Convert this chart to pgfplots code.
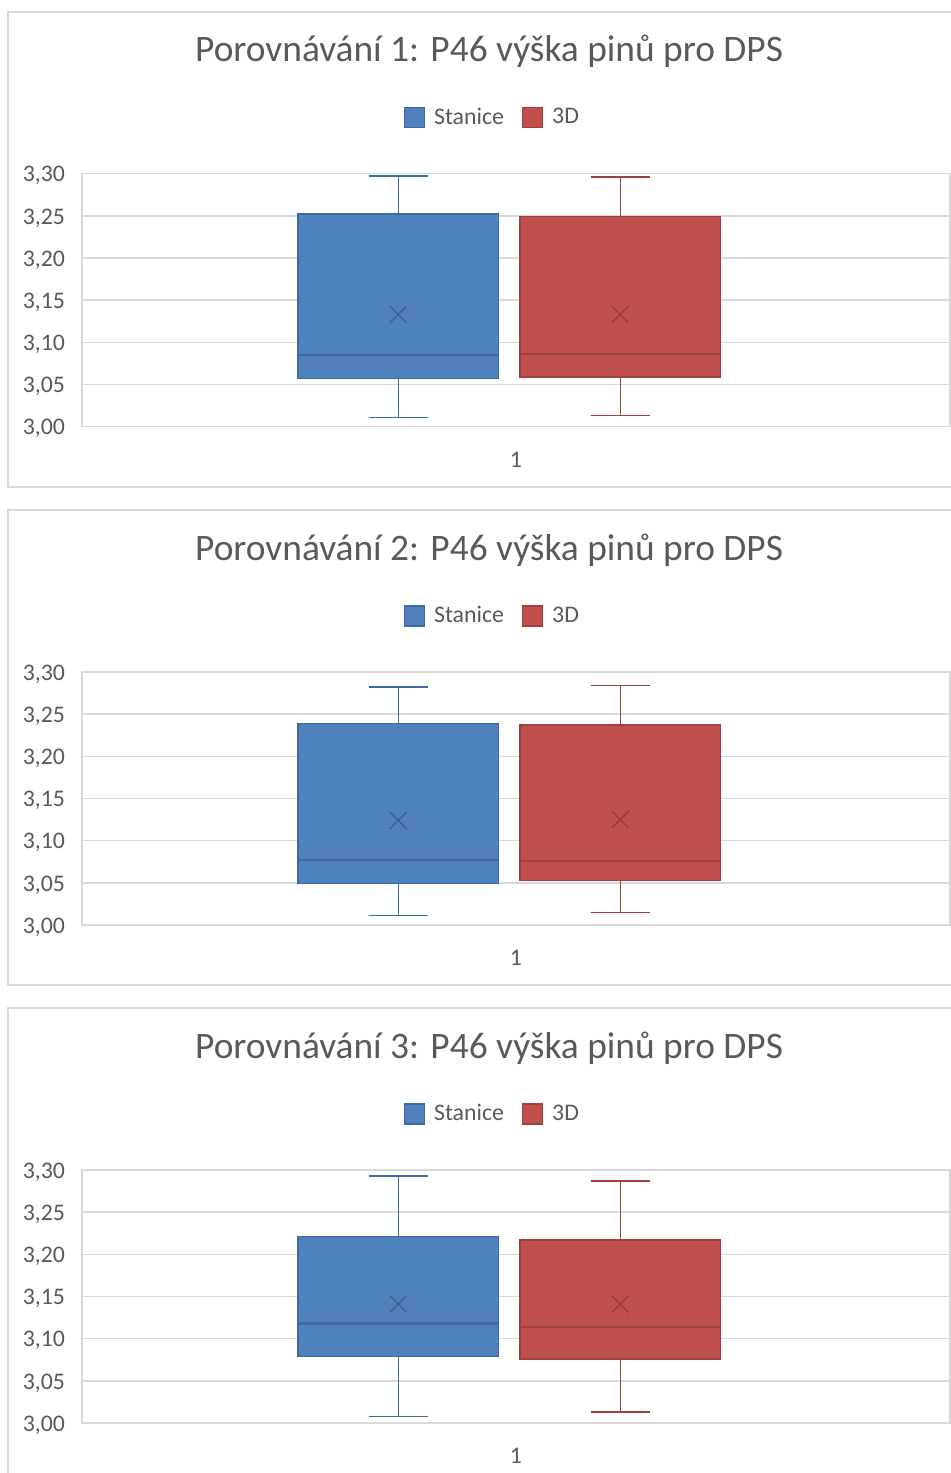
\documentclass[border=0pt]{standalone}
\usepackage{fontspec}
\setmainfont{Carlito}
\usepackage{pgfplots}
\pgfplotsset{compat=1.18}
\usepgfplotslibrary{statistics}
\definecolor{bfill}{HTML}{4F81BD}
\definecolor{bedge}{HTML}{3E6A9E}
\definecolor{rfill}{HTML}{C0504D}
\definecolor{redge}{HTML}{A0403D}
\definecolor{bmark}{HTML}{3A5F8C}
\definecolor{rmark}{HTML}{963C3A}
\definecolor{txt}{HTML}{595959}
\definecolor{grd}{HTML}{D9D9D9}
\pgfplotsset{
  panel/.style={
    scale only axis, width=434pt, height=126.5pt,
    xmin=0, xmax=1, ymin=3, ymax=3.3,
    boxplot/draw direction=y,
    ytick={3,3.05,3.1,3.15,3.2,3.25,3.3},
    xtick={0.5}, xticklabels={1},
    major tick length=0pt,
    ymajorgrids, grid style={grd, line width=0.8pt},
    axis line style={grd, line width=0.8pt},
    tick label style={font=\fontsize{11.9}{14}\selectfont, text=txt},
    yticklabel style={/pgf/number format/fixed, /pgf/number format/fixed zerofill, /pgf/number format/precision=2, /pgf/number format/use comma, /tikz/xshift=-5pt, /tikz/yshift=-1pt},
    xticklabel style={yshift=-9pt},
    /pgf/number format/assume math mode=true,
    title style={at={(0.4690,1.4354)}, anchor=center, font=\fontsize{18.7}{22}\selectfont, text=txt},
    legend style={at={(0.474,1.2216)}, anchor=center, draw=none, fill=none,
      font=\fontsize{11.9}{14}\selectfont, text=txt,
      /tikz/every odd column/.append style={column sep=2.5pt},
      /tikz/every even column/.append style={column sep=7pt}},
    legend columns=2,
    legend image code/.code={\draw[##1, line width=0.6pt] (0pt,-5pt) rectangle (10pt,5pt);},
    clip=false,
  },
  bluebox/.style={draw=bedge, fill=bfill, line width=0.75pt, mark=none,
    boxplot/draw position=0.3644, boxplot/box extend=0.2312, boxplot/whisker extend=0.0682,
    boxplot/every median/.style={draw=bedge, line width=1.1pt}},
  redbox/.style={draw=redge, fill=rfill, line width=0.75pt, mark=none,
    boxplot/draw position=0.6201, boxplot/box extend=0.2312, boxplot/whisker extend=0.0682,
    boxplot/every median/.style={draw=redge, line width=1.1pt}},
  bmean/.style={only marks, mark=x, mark size=5.9pt, mark options={draw=bmark, line width=0.65pt}},
  rmean/.style={only marks, mark=x, mark size=5.9pt, mark options={draw=rmark, line width=0.65pt}},
}
\begin{document}
\begin{tikzpicture}
\useasboundingbox (0,0) rectangle (475.5pt,736.5pt);
\draw[grd, line width=0.7pt] (4pt,493pt) rectangle (490pt,730.5pt);
\draw[grd, line width=0.7pt] (4pt,244pt) rectangle (490pt,481.5pt);
\draw[grd, line width=0.7pt] (4pt,-10pt) rectangle (490pt,232.5pt);

% Panel 1
\begin{axis}[panel, at={(41pt,523.15pt)}, anchor=south west,
  title={Porovnávání 1: P46 výška pinů pro DPS}]
\addlegendimage{draw=bedge, fill=bfill}
\addlegendimage{draw=redge, fill=rfill}
\addplot+[boxplot prepared={lower whisker=3.011, lower quartile=3.057, median=3.085, upper quartile=3.252, upper whisker=3.297}, bluebox] coordinates {};
\addplot+[boxplot prepared={lower whisker=3.013, lower quartile=3.059, median=3.086, upper quartile=3.249, upper whisker=3.296}, redbox] coordinates {};
\addplot[bmean] coordinates {(0.3644,3.133)};
\addplot[rmean] coordinates {(0.6201,3.133)};
\legend{Stanice,3D}
\end{axis}

% Panel 2
\begin{axis}[panel, at={(41pt,274pt)}, anchor=south west,
  title={Porovnávání 2: P46 výška pinů pro DPS}]
\addlegendimage{draw=bedge, fill=bfill}
\addlegendimage{draw=redge, fill=rfill}
\addplot+[boxplot prepared={lower whisker=3.011, lower quartile=3.049, median=3.077, upper quartile=3.239, upper whisker=3.282}, bluebox] coordinates {};
\addplot+[boxplot prepared={lower whisker=3.015, lower quartile=3.053, median=3.076, upper quartile=3.237, upper whisker=3.284}, redbox] coordinates {};
\addplot[bmean] coordinates {(0.3644,3.124)};
\addplot[rmean] coordinates {(0.6201,3.125)};
\legend{Stanice,3D}
\end{axis}

% Panel 3
\begin{axis}[panel, at={(41pt,25pt)}, anchor=south west,
  title={Porovnávání 3: P46 výška pinů pro DPS}]
\addlegendimage{draw=bedge, fill=bfill}
\addlegendimage{draw=redge, fill=rfill}
\addplot+[boxplot prepared={lower whisker=3.008, lower quartile=3.079, median=3.118, upper quartile=3.221, upper whisker=3.293}, bluebox] coordinates {};
\addplot+[boxplot prepared={lower whisker=3.013, lower quartile=3.076, median=3.114, upper quartile=3.217, upper whisker=3.287}, redbox] coordinates {};
\addplot[bmean] coordinates {(0.3644,3.141)};
\addplot[rmean] coordinates {(0.6201,3.141)};
\legend{Stanice,3D}
\end{axis}
\end{tikzpicture}
\end{document}
